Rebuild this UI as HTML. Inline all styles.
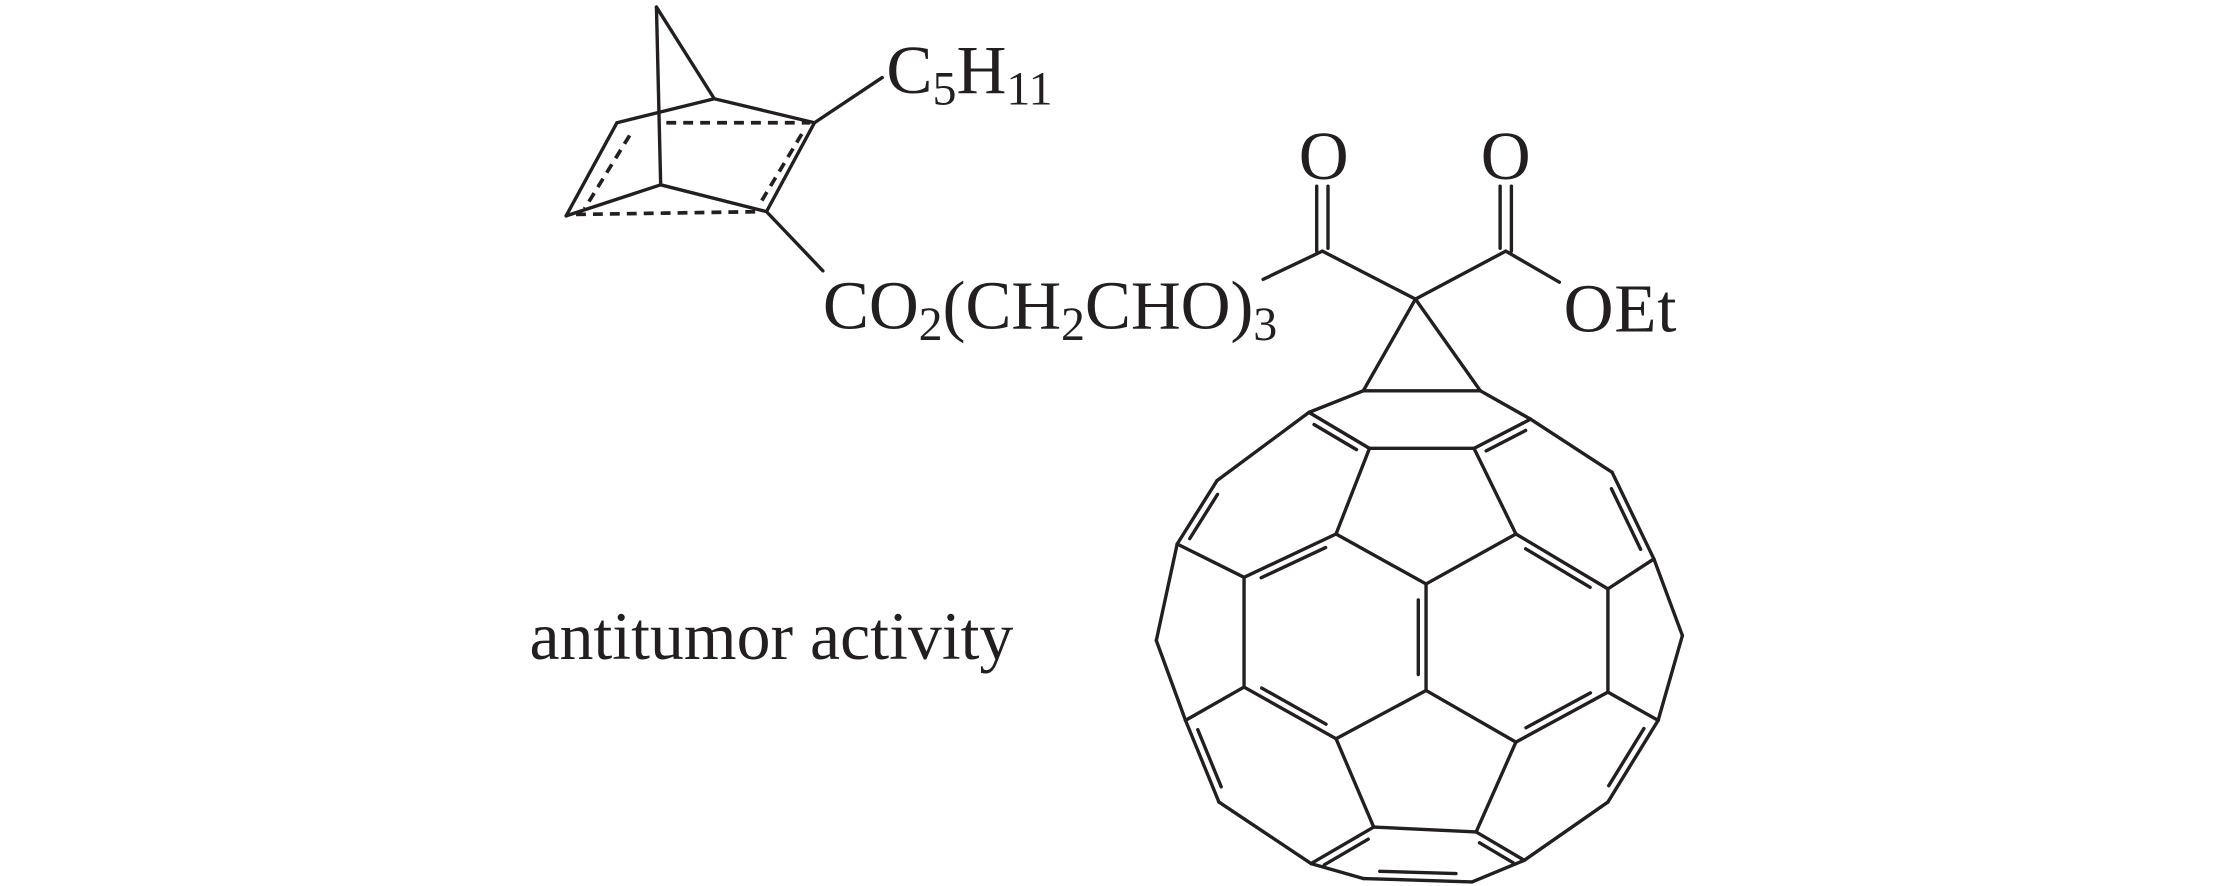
<!DOCTYPE html>
<html><head><meta charset="utf-8"><style>
html,body{margin:0;padding:0;background:#fff;}
svg{display:block;}
text{font-family:"Liberation Serif",serif;fill:#231f20;}
</style></head><body>
<svg id="s" width="2213" height="886" viewBox="0 0 1568 628" xmlns="http://www.w3.org/2000/svg">
<g stroke="#231f20" stroke-width="2.4" fill="none" stroke-linecap="round">
<line x1="465" y1="5" x2="506" y2="70"/>
<line x1="465" y1="5" x2="468" y2="131"/>
<line x1="506" y1="70" x2="577" y2="87"/>
<line x1="506" y1="70" x2="437" y2="87"/>
<line x1="437" y1="87" x2="401" y2="153"/>
<line x1="401" y1="153" x2="468" y2="131"/>
<line x1="468" y1="131" x2="543" y2="150"/>
<line x1="577" y1="87" x2="543" y2="150"/>
<g stroke-dasharray="7,5" stroke-linecap="butt" stroke-width="2.6">
<line x1="472" y1="87" x2="574" y2="87"/>
<line x1="446" y1="96" x2="414" y2="148"/>
<line x1="568" y1="95" x2="538" y2="145"/>
<line x1="408" y1="152" x2="540" y2="150"/>
</g>
<line x1="577" y1="87" x2="625" y2="55"/>
<line x1="543" y1="150" x2="583" y2="192"/>
<line x1="895" y1="198" x2="937" y2="178"/>
<line x1="937" y1="178" x2="1003" y2="212"/>
<line x1="933" y1="132" x2="933" y2="178"/>
<line x1="941" y1="132" x2="941" y2="176"/>
<line x1="1003" y1="212" x2="1067" y2="178"/>
<line x1="1067" y1="178" x2="1105" y2="200"/>
<line x1="1063" y1="132" x2="1063" y2="176"/>
<line x1="1071" y1="132" x2="1071" y2="178"/>
<line x1="1003" y1="212" x2="966" y2="277"/>
<line x1="1003" y1="212" x2="1049" y2="277"/>
<line x1="966" y1="277" x2="1049" y2="277"/>
<g id="ball"></g>
</g>
<text x="628" y="66" font-size="49">C<tspan font-size="34" dy="8">5</tspan><tspan dy="-8">H</tspan><tspan font-size="34" dy="8">11</tspan></text>
<text x="583" y="233" font-size="49" textLength="322">CO<tspan font-size="34" dy="8">2</tspan><tspan dy="-8">(CH</tspan><tspan font-size="34" dy="8">2</tspan><tspan dy="-8">CHO)</tspan><tspan font-size="34" dy="8">3</tspan></text>
<text x="938" y="127" font-size="49" text-anchor="middle">O</text>
<text x="1067" y="127" font-size="49" text-anchor="middle">O</text>
<text x="1108" y="235" font-size="49" textLength="80">OEt</text>
<text x="375" y="467" font-size="48" textLength="343">antitumor activity</text>
</svg>
<script>
var P={A1:[635,35],A2:[915,35],B1:[505,100],B2:[1035,120],C1:[650,208],C2:[900,208],D1:[285,305],D2:[1230,280],E1:[570,465],E2:[1000,465],F1:[190,495],F2:[1330,540],G1:[350,595],G2:[1220,630],H:[785,615],I1:[140,785],I2:[1398,770],J1:[350,925],J2:[1220,940],K:[785,935],L1:[210,1025],L2:[1340,1025],M1:[570,1080],M2:[1000,1090],N1:[290,1270],N2:[1220,1270],O1:[660,1345],O2:[905,1360],P1:[510,1455],P2:[1020,1445],Q1:[635,1500],Q2:[895,1510]};
function T(p){return [966+(p[0]-635)*0.2964,277+(p[1]-35)*0.236];}
var E=[["A1","B1"],["A2","B2"],["C1","C2"],["B1","D1"],["B2","D2"],["C1","E1"],["C2","E2"],["E1","H"],["E2","H"],["F1","G1"],["F2","G2"],["F1","I1"],["F2","I2"],["G1","J1"],["G2","J2"],["I1","L1"],["I2","L2"],["J1","L1"],["J2","L2"],["K","M1"],["K","M2"],["M1","O1"],["M2","O2"],["O1","O2"],["N1","P1"],["N2","P2"],["P1","Q1"],["P2","Q2"]];
var D=[["B1","C1",[400,350]],["C2","B2",[1130,380]],["D1","F1",[400,420]],["D2","F2",[1130,420]],["E1","G1",[570,770]],["E2","G2",[1000,780]],["H","K",[570,770]],["J1","M1",[570,770]],["J2","M2",[1000,780]],["L1","N1",[400,1150]],["L2","N2",[1130,1150]],["O1","P1",[760,1430]],["O2","P2",[760,1430]],["Q1","Q2",[760,1420]]];
var g=document.getElementById("ball"),s="";
function L(a,b){s+='<line x1="'+a[0].toFixed(1)+'" y1="'+a[1].toFixed(1)+'" x2="'+b[0].toFixed(1)+'" y2="'+b[1].toFixed(1)+'"/>';}
E.forEach(function(e){L(T(P[e[0]]),T(P[e[1]]));});
D.forEach(function(d){var a=T(P[d[0]]),b=T(P[d[1]]),c=T(d[2]);L(a,b);
var dx=b[0]-a[0],dy=b[1]-a[1],l=Math.hypot(dx,dy),nx=-dy/l,ny=dx/l;
var mx=(a[0]+b[0])/2,my=(a[1]+b[1])/2;if((c[0]-mx)*nx+(c[1]-my)*ny<0){nx=-nx;ny=-ny;}
var o=5.5,f=0.15;L([a[0]+dx*f+nx*o,a[1]+dy*f+ny*o],[b[0]-dx*f+nx*o,b[1]-dy*f+ny*o]);});
g.innerHTML=s;
</script>
</body></html>
